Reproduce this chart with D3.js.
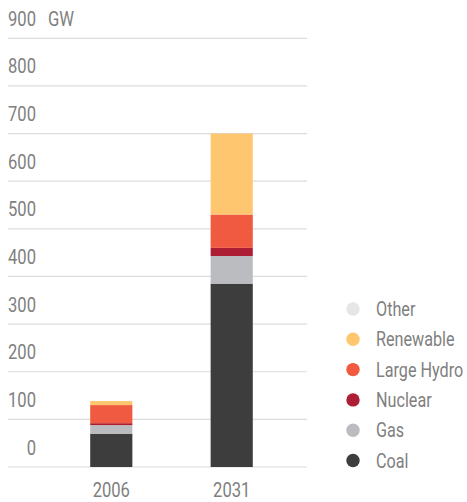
<!DOCTYPE html>
<html>
<head>
<meta charset="utf-8">
<script src="https://cdn.jsdelivr.net/npm/d3@7"></script>
<style>
  body { margin: 0; background: #fff; }
  text { font-family: Roboto, "DejaVu Sans", sans-serif; fill: #808080; }
</style>
</head>
<body>
<div id="chart"></div>
<script>
(function() {

  // data, GW
  var years = ['2006', '2031']
  var sources = ['Coal', 'Gas', 'Nuclear', 'Large Hydro', 'Renewable', 'Other']
  var coal = [70, 385]
  var gas = [18, 58]
  var nuclear = [4, 17]
  var hydro = [38, 70]
  var renewable = [8.5, 170]
  var other = [0, 0]
  var yTicks = [0, 100, 200, 300, 400, 500, 600, 700, 800, 900]
  var legendOrder = ['Other', 'Renewable', 'Large Hydro', 'Nuclear', 'Gas', 'Coal']

  var width = 467, height = 502
  var squeeze = 0.83 // fake a condensed face

  var svg = d3.select("#chart")
    .append("svg")
    .attr("width", width)
    .attr("height", height)

  var colorScale = d3.scaleOrdinal()
    .domain(sources)
    .range(['#3d3d3d', '#bbbcbf', '#ad1e35', '#f05a40', '#fec76f', '#e6e6e8'])

  var yScale = d3.scaleLinear()
    .domain([0, 900])
    .range([467, 38.3])

  var xScale = d3.scaleBand()
    .domain(years)
    .range([30, 313])
    .paddingInner(0.65)
    .paddingOuter(0.5)

  var rows = years.map(function(y, i) {
    return {
      year: y,
      'Coal': coal[i],
      'Gas': gas[i],
      'Nuclear': nuclear[i],
      'Large Hydro': hydro[i],
      'Renewable': renewable[i],
      'Other': other[i]
    }
  })

  var stacked = d3.stack().keys(sources)(rows)

  function place(x, y) {
    return "translate(" + x + "," + y + ") scale(" + squeeze + ",1)"
  }

  // grid lines
  svg.selectAll(".grid")
    .data(yTicks)
    .enter().append("line")
    .attr("class", "grid")
    .attr("x1", 8)
    .attr("x2", 307)
    .attr("y1", function(d) { return yScale(d) })
    .attr("y2", function(d) { return yScale(d) })
    .attr("stroke", "#dcdcdc")
    .attr("stroke-width", 1.2)

  // y labels sit above their line
  svg.selectAll(".ylab")
    .data(yTicks)
    .enter().append("text")
    .attr("class", "ylab")
    .attr("transform", function(d) { return place(36, yScale(d) - 12.5) })
    .attr("text-anchor", "end")
    .attr("font-size", "20px")
    .text(function(d) { return d })

  svg.append("text")
    .attr("transform", place(48, yScale(900) - 12.5))
    .attr("font-size", "20px")
    .text("GW")

  // bars
  svg.selectAll(".layer")
    .data(stacked)
    .enter().append("g")
    .attr("class", "layer")
    .attr("fill", function(d) { return colorScale(d.key) })
    .selectAll("rect")
    .data(function(d) { return d })
    .enter().append("rect")
    .attr("x", function(d) { return xScale(d.data.year) })
    .attr("width", xScale.bandwidth())
    .attr("y", function(d) { return yScale(d[1]) })
    .attr("height", function(d) { return yScale(d[0]) - yScale(d[1]) })

  // x labels
  svg.selectAll(".xlab")
    .data(years)
    .enter().append("text")
    .attr("class", "xlab")
    .attr("transform", function(d) { return place(xScale(d) + xScale.bandwidth() / 2, 496.5) })
    .attr("text-anchor", "middle")
    .attr("font-size", "20px")
    .text(function(d) { return d })

  // legend
  var legendY = d3.scalePoint()
    .domain(legendOrder)
    .range([309, 460.5])

  var legend = svg.selectAll(".legend")
    .data(legendOrder)
    .enter().append("g")
    .attr("class", "legend")
    .attr("transform", function(d) { return "translate(0," + legendY(d) + ")" })

  legend.append("circle")
    .attr("cx", 353)
    .attr("cy", 0)
    .attr("r", 6.7)
    .attr("fill", function(d) { return colorScale(d) })

  legend.append("text")
    .attr("transform", place(376, 7))
    .attr("font-size", "19.5px")
    .text(function(d) { return d })

})();
</script>
</body>
</html>
